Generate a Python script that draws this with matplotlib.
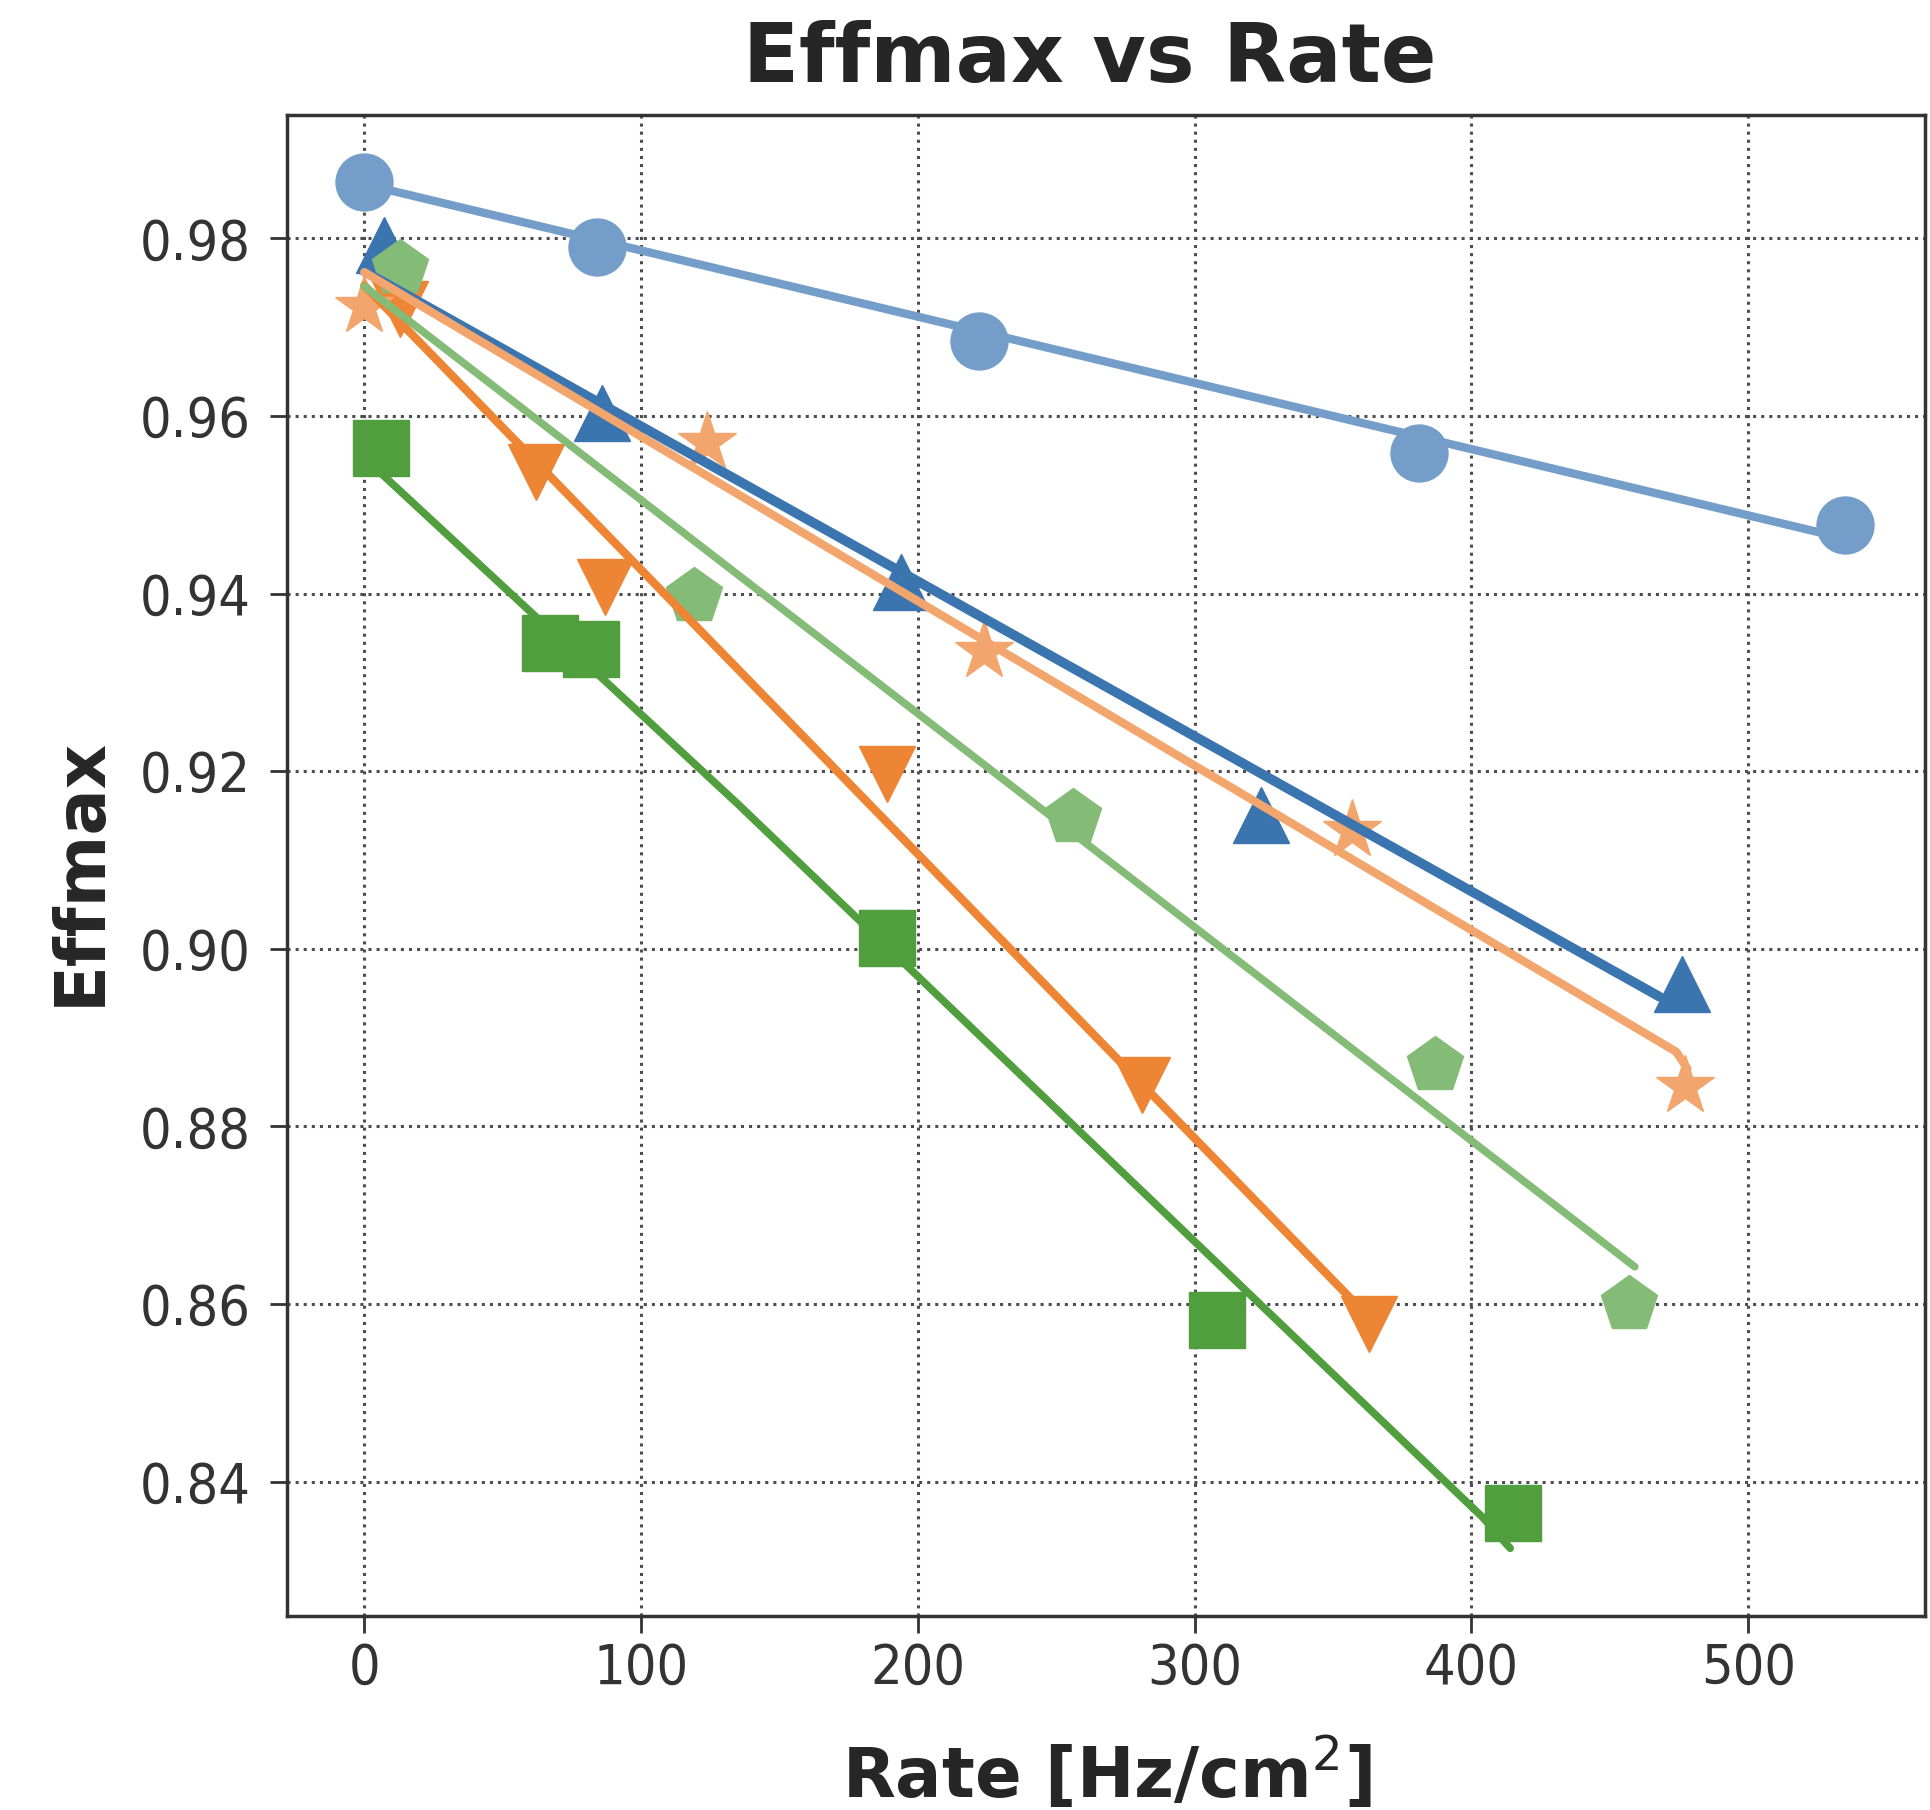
import matplotlib
matplotlib.use('Agg')
import matplotlib.pyplot as plt
from matplotlib import font_manager as fm

# measured points: rate [Hz/cm^2] and max efficiency for each chamber setting
rate_a = [0, 84, 222, 381, 535]
eff_a = [0.9864, 0.9790, 0.9685, 0.9558, 0.9477]
rate_b = [7, 86, 194, 324, 476]
eff_b = [0.9792, 0.9603, 0.9413, 0.9151, 0.8960]
rate_c = [0, 124, 224, 357, 477]
eff_c = [0.9724, 0.9571, 0.9335, 0.9134, 0.8846]
rate_d = [13, 62, 87, 189, 281, 363]
eff_d = [0.9720, 0.9537, 0.9408, 0.9197, 0.8847, 0.8578]
rate_e = [13, 119, 256, 387, 457]
eff_e = [0.9767, 0.9397, 0.9149, 0.8869, 0.8600]
rate_f = [6, 67, 82, 189, 308, 415]
eff_f = [0.9564, 0.9344, 0.9338, 0.9012, 0.8582, 0.8365]

# fitted curves
fit_a_x = [0, 535]
fit_a_y = [0.9861, 0.9462]
fit_b_x = [0, 468]
fit_b_y = [0.9763, 0.8946]
fit_c_x = [0, 474, 478]
fit_c_y = [0.9762, 0.8884, 0.8865]
fit_d_x = [0, 363]
fit_d_y = [0.9747, 0.8585]
fit_e_x = [0, 459]
fit_e_y = [0.9746, 0.8642]
fit_f_x = [0, 135, 404, 414]
fit_f_y = [0.9553, 0.9163, 0.8360, 0.8325]

xticks = [0, 100, 200, 300, 400, 500]
yticks = [0.84, 0.86, 0.88, 0.90, 0.92, 0.94, 0.96, 0.98]

series = [
    (rate_a, eff_a, fit_a_x, fit_a_y, '#749ec9', 'o', 6),
    (rate_b, eff_b, fit_b_x, fit_b_y, '#3b75af', '^', 7),
    (rate_d, eff_d, fit_d_x, fit_d_y, '#ed8534', 'v', 6),
    (rate_c, eff_c, fit_c_x, fit_c_y, '#f2a56c', '*', 6),
    (rate_f, eff_f, fit_f_x, fit_f_y, '#509e3d', 's', 5.5),
    (rate_e, eff_e, fit_e_x, fit_e_y, '#84bb76', 'p', 5.5),
]
marker_size = {'o': 41, '^': 41, 'v': 41, '*': 44, 's': 40, 'p': 42}

fig = plt.figure(figsize=(19.31, 18.10), dpi=100)
ax = fig.add_axes([0.1485, 0.1073, 0.9971 - 0.1485, 0.9365 - 0.1073])

for x, y, fx, fy, col, mk, lw in series:
    ax.plot(x, y, ls='none', marker=mk, ms=marker_size[mk], color=col,
            mec=col, mew=1, zorder=3)
for x, y, fx, fy, col, mk, lw in series:
    ax.plot(fx, fy, '-', color=col, lw=lw, solid_capstyle='round', zorder=4)

ax.set_xlim(-28, 564)
ax.set_ylim(0.8249, 0.9939)
ax.set_xticks(xticks)
ax.set_yticks(yticks)
ax.set_yticklabels(['%.2f' % v for v in yticks])

ax.grid(True, ls=':', color='0.3', lw=2.2, zorder=0)
for sp in ax.spines.values():
    sp.set_color('#333333')
    sp.set_linewidth(2.5)

# narrow digits for the tick labels if a condensed face is around
tick_font = None
for f in fm.fontManager.ttflist:
    if f.name == 'DejaVu Sans' and f.stretch == 'condensed' and f.weight in ('normal', 400) and f.style == 'normal':
        tick_font = fm.FontProperties(fname=f.fname, size=40)
        break
if tick_font is None:
    tick_font = fm.FontProperties(family='DejaVu Sans', size=36)

ax.tick_params(axis='both', direction='out', length=12, width=2,
               color='#333333', labelcolor='#333333')
ax.tick_params(axis='x', pad=6.5)
ax.tick_params(axis='y', pad=14)
for lab in ax.get_xticklabels() + ax.get_yticklabels():
    lab.set_fontproperties(tick_font)

fig.text(0.5645, 0.9549, 'Effmax vs Rate', ha='center', va='baseline',
         fontsize=59, fontweight='bold', color='#262626')
fig.text(0.5735, 0.0074, r'Rate [Hz/cm$^2$]', ha='center', va='baseline',
         fontsize=49.5, fontweight='bold', color='#262626')
fig.text(0.0518, 0.5184, 'Effmax', ha='center', va='baseline', rotation=90,
         rotation_mode='anchor', fontsize=49.5, fontweight='bold', color='#262626')

fig.savefig('out.png', dpi=100)
